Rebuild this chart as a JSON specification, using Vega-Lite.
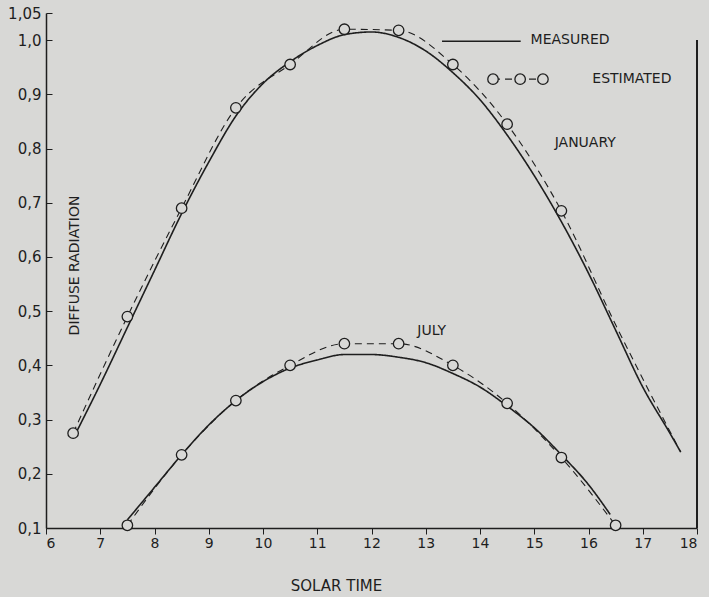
{
  "$schema": "https://vega.github.io/schema/vega-lite/v6.json",
  "width": 651,
  "height": 515,
  "autosize": {"type": "none"},
  "padding": {"left": 46, "top": 13, "right": 12, "bottom": 69},
  "background": "#d8d8d6",
  "config": {
    "view": {"stroke": null},
    "font": "DejaVu Sans",
    "axis": {"domainColor": "#1e1e1e", "tickColor": "#1e1e1e", "labelColor": "#1e1e1e", "titleColor": "#1e1e1e", "grid": false, "labelFont": "DejaVu Sans", "titleFont": "DejaVu Sans", "titleFontWeight": "normal"}
  },
  "datasets": {
    "curves": [
      {"month": "January", "kind": "Measured", "x": 6.5, "y": 0.265},
      {"month": "January", "kind": "Measured", "x": 7.0, "y": 0.365},
      {"month": "January", "kind": "Measured", "x": 7.5, "y": 0.47},
      {"month": "January", "kind": "Measured", "x": 8.0, "y": 0.575},
      {"month": "January", "kind": "Measured", "x": 8.5, "y": 0.68},
      {"month": "January", "kind": "Measured", "x": 9.0, "y": 0.775},
      {"month": "January", "kind": "Measured", "x": 9.5, "y": 0.86},
      {"month": "January", "kind": "Measured", "x": 10.0, "y": 0.92},
      {"month": "January", "kind": "Measured", "x": 10.5, "y": 0.96},
      {"month": "January", "kind": "Measured", "x": 11.0, "y": 0.99},
      {"month": "January", "kind": "Measured", "x": 11.5, "y": 1.01},
      {"month": "January", "kind": "Measured", "x": 12.0, "y": 1.015},
      {"month": "January", "kind": "Measured", "x": 12.5, "y": 1.005},
      {"month": "January", "kind": "Measured", "x": 13.0, "y": 0.98},
      {"month": "January", "kind": "Measured", "x": 13.5, "y": 0.94},
      {"month": "January", "kind": "Measured", "x": 14.0, "y": 0.89},
      {"month": "January", "kind": "Measured", "x": 14.5, "y": 0.825},
      {"month": "January", "kind": "Measured", "x": 15.0, "y": 0.75},
      {"month": "January", "kind": "Measured", "x": 15.5, "y": 0.665},
      {"month": "January", "kind": "Measured", "x": 16.0, "y": 0.57},
      {"month": "January", "kind": "Measured", "x": 16.5, "y": 0.465},
      {"month": "January", "kind": "Measured", "x": 17.0, "y": 0.36},
      {"month": "January", "kind": "Measured", "x": 17.5, "y": 0.275},
      {"month": "January", "kind": "Measured", "x": 17.7, "y": 0.24},
      {"month": "January", "kind": "Estimated", "x": 6.5, "y": 0.275},
      {"month": "January", "kind": "Estimated", "x": 7.5, "y": 0.49},
      {"month": "January", "kind": "Estimated", "x": 8.5, "y": 0.69},
      {"month": "January", "kind": "Estimated", "x": 9.5, "y": 0.875},
      {"month": "January", "kind": "Estimated", "x": 10.5, "y": 0.955},
      {"month": "January", "kind": "Estimated", "x": 11.5, "y": 1.02},
      {"month": "January", "kind": "Estimated", "x": 12.5, "y": 1.018},
      {"month": "January", "kind": "Estimated", "x": 13.5, "y": 0.955},
      {"month": "January", "kind": "Estimated", "x": 14.5, "y": 0.845},
      {"month": "January", "kind": "Estimated", "x": 15.5, "y": 0.685},
      {"month": "January", "kind": "Estimated", "x": 16.5, "y": 0.475},
      {"month": "January", "kind": "Estimated", "x": 17.7, "y": 0.24},
      {"month": "July", "kind": "Measured", "x": 7.5, "y": 0.115},
      {"month": "July", "kind": "Measured", "x": 8.0, "y": 0.175},
      {"month": "July", "kind": "Measured", "x": 8.5, "y": 0.235},
      {"month": "July", "kind": "Measured", "x": 9.0, "y": 0.29},
      {"month": "July", "kind": "Measured", "x": 9.5, "y": 0.335},
      {"month": "July", "kind": "Measured", "x": 10.0, "y": 0.37},
      {"month": "July", "kind": "Measured", "x": 10.5, "y": 0.395},
      {"month": "July", "kind": "Measured", "x": 11.0, "y": 0.41},
      {"month": "July", "kind": "Measured", "x": 11.5, "y": 0.42},
      {"month": "July", "kind": "Measured", "x": 12.0, "y": 0.42},
      {"month": "July", "kind": "Measured", "x": 12.5, "y": 0.415},
      {"month": "July", "kind": "Measured", "x": 13.0, "y": 0.405},
      {"month": "July", "kind": "Measured", "x": 13.5, "y": 0.385},
      {"month": "July", "kind": "Measured", "x": 14.0, "y": 0.36},
      {"month": "July", "kind": "Measured", "x": 14.5, "y": 0.325},
      {"month": "July", "kind": "Measured", "x": 15.0, "y": 0.285},
      {"month": "July", "kind": "Measured", "x": 15.5, "y": 0.235},
      {"month": "July", "kind": "Measured", "x": 16.0, "y": 0.18},
      {"month": "July", "kind": "Measured", "x": 16.4, "y": 0.125},
      {"month": "July", "kind": "Estimated", "x": 7.5, "y": 0.105},
      {"month": "July", "kind": "Estimated", "x": 8.5, "y": 0.235},
      {"month": "July", "kind": "Estimated", "x": 9.5, "y": 0.335},
      {"month": "July", "kind": "Estimated", "x": 10.5, "y": 0.4},
      {"month": "July", "kind": "Estimated", "x": 11.5, "y": 0.44},
      {"month": "July", "kind": "Estimated", "x": 12.5, "y": 0.44},
      {"month": "July", "kind": "Estimated", "x": 13.5, "y": 0.4},
      {"month": "July", "kind": "Estimated", "x": 14.5, "y": 0.33},
      {"month": "July", "kind": "Estimated", "x": 15.5, "y": 0.23},
      {"month": "July", "kind": "Estimated", "x": 16.5, "y": 0.105},
      {"month": "legend", "kind": "Estimated", "x": 14.24, "y": 0.928},
      {"month": "legend", "kind": "Estimated", "x": 15.3, "y": 0.928}
    ],
    "circles": [
      {"month": "January", "x": 6.5, "y": 0.275},
      {"month": "January", "x": 7.5, "y": 0.49},
      {"month": "January", "x": 8.5, "y": 0.69},
      {"month": "January", "x": 9.5, "y": 0.875},
      {"month": "January", "x": 10.5, "y": 0.955},
      {"month": "January", "x": 11.5, "y": 1.02},
      {"month": "January", "x": 12.5, "y": 1.018},
      {"month": "January", "x": 13.5, "y": 0.955},
      {"month": "January", "x": 14.5, "y": 0.845},
      {"month": "January", "x": 15.5, "y": 0.685},
      {"month": "July", "x": 7.5, "y": 0.105},
      {"month": "July", "x": 8.5, "y": 0.235},
      {"month": "July", "x": 9.5, "y": 0.335},
      {"month": "July", "x": 10.5, "y": 0.4},
      {"month": "July", "x": 11.5, "y": 0.44},
      {"month": "July", "x": 12.5, "y": 0.44},
      {"month": "July", "x": 13.5, "y": 0.4},
      {"month": "July", "x": 14.5, "y": 0.33},
      {"month": "July", "x": 15.5, "y": 0.23},
      {"month": "July", "x": 16.5, "y": 0.105},
      {"month": "legend", "x": 14.24, "y": 0.928},
      {"month": "legend", "x": 14.74, "y": 0.928},
      {"month": "legend", "x": 15.16, "y": 0.928}
    ],
    "labels": [
      {"text": "MEASURED", "x": 15.66, "y": 1.0},
      {"text": "ESTIMATED", "x": 16.8, "y": 0.928},
      {"text": "JANUARY", "x": 15.94, "y": 0.81},
      {"text": "JULY", "x": 13.11, "y": 0.463}
    ],
    "legendline": [
      {"x": 13.3, "y": 0.998},
      {"x": 14.75, "y": 0.998}
    ],
    "rightborder": [
      {"x": 18, "y": 0.1},
      {"x": 18, "y": 1.0}
    ]
  },
  "layer": [
    {
      "data": {"name": "curves"},
      "mark": {"type": "line", "interpolate": "monotone", "color": "#1e1e1e", "strokeWidth": 1.5},
      "encoding": {
        "x": {"field": "x", "type": "quantitative", "scale": {"domain": [6, 18], "nice": false, "zero": false},
          "axis": {"values": [6,7,8,9,10,11,12,13,14,15,16,17,18], "format": "d", "title": "SOLAR TIME", "titleFontSize": 15, "titleX": 290, "titleY": 50, "labelFontSize": 14, "tickSize": 6, "labelPadding": 2, "domainWidth": 1.5}},
        "y": {"field": "y", "type": "quantitative", "scale": {"domain": [0.1, 1.05], "nice": false, "zero": false},
          "axis": {"values": [0.1,0.2,0.3,0.4,0.5,0.6,0.7,0.8,0.9,1.0,1.05], "labelExpr": "datum.value == 1.05 ? '1,05' : replace(format(datum.value, '.1f'), '.', ',')", "title": "DIFFUSE RADIATION", "titleFontSize": 14, "titleAngle": -90, "titleX": 28, "titleY": 252, "titleAlign": "center", "titleBaseline": "middle", "labelFontSize": 15, "tickSize": -6, "labelPadding": 11, "domainWidth": 1.5}},
        "detail": {"field": "month"},
        "strokeDash": {"field": "kind", "type": "nominal", "scale": {"domain": ["Measured", "Estimated"], "range": [[1, 0], [7, 5]]}, "legend": null},
        "size": {"field": "kind", "type": "nominal", "scale": {"domain": ["Measured", "Estimated"], "range": [1.6, 1.1]}, "legend": null}
      }
    },
    {
      "data": {"name": "circles"},
      "mark": {"type": "point", "shape": "circle", "filled": true, "fill": "#d8d8d6", "stroke": "#1e1e1e", "strokeWidth": 1.3, "size": 110, "opacity": 1},
      "encoding": {
        "x": {"field": "x", "type": "quantitative"},
        "y": {"field": "y", "type": "quantitative"}
      }
    },
    {
      "data": {"name": "legendline"},
      "mark": {"type": "line", "color": "#1e1e1e", "strokeWidth": 1.6},
      "encoding": {
        "x": {"field": "x", "type": "quantitative"},
        "y": {"field": "y", "type": "quantitative"}
      }
    },
    {
      "data": {"name": "rightborder"},
      "mark": {"type": "line", "color": "#1e1e1e", "strokeWidth": 2},
      "encoding": {
        "x": {"field": "x", "type": "quantitative"},
        "y": {"field": "y", "type": "quantitative"}
      }
    },
    {
      "data": {"name": "labels"},
      "mark": {"type": "text", "fontSize": 14, "color": "#1e1e1e", "align": "center", "baseline": "middle"},
      "encoding": {
        "x": {"field": "x", "type": "quantitative"},
        "y": {"field": "y", "type": "quantitative"},
        "text": {"field": "text"}
      }
    }
  ]
}
